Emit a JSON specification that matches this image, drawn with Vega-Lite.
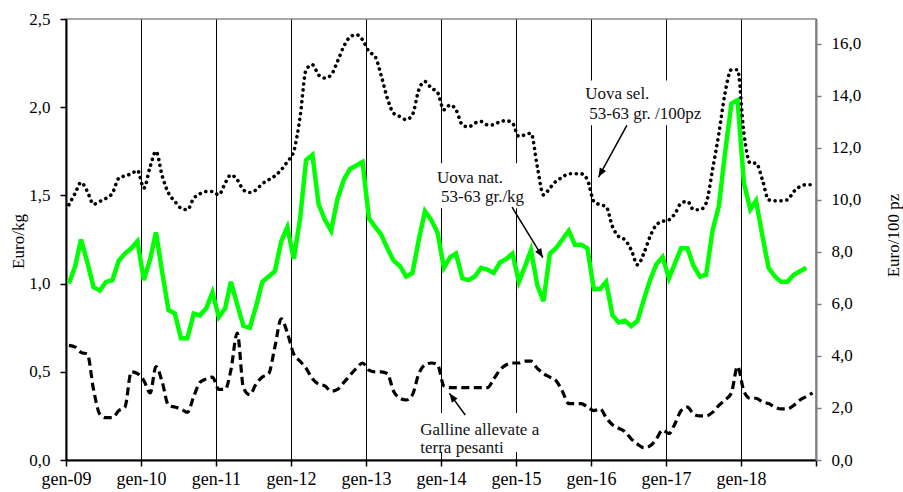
{
  "$schema": "https://vega.github.io/schema/vega-lite/v6.json",
  "width": 750,
  "height": 441,
  "autosize": {"type": "none"},
  "padding": {"left": 66, "top": 19, "right": 87, "bottom": 32},
  "config": {
    "font": "Liberation Serif",
    "view": {"stroke": "#8a8a8a", "strokeWidth": 1.5},
    "axis": {"labelColor": "black", "titleColor": "black", "titleFontWeight": "normal", "labelFont": "Liberation Serif", "titleFont": "Liberation Serif"}
  },
  "datasets": {
    "main": [
      {"d":"2009-01-15","sel":9.81,"nat":1.00,"gall":0.65},
      {"d":"2009-02-15","sel":10.26,"nat":1.10,"gall":0.64},
      {"d":"2009-03-15","sel":10.67,"nat":1.25,"gall":0.61},
      {"d":"2009-04-15","sel":10.32,"nat":1.12,"gall":0.60},
      {"d":"2009-05-15","sel":9.83,"nat":0.98,"gall":0.40},
      {"d":"2009-06-15","sel":9.94,"nat":0.96,"gall":0.26},
      {"d":"2009-07-15","sel":10.06,"nat":1.01,"gall":0.24},
      {"d":"2009-08-15","sel":10.26,"nat":1.02,"gall":0.24},
      {"d":"2009-09-15","sel":10.83,"nat":1.13,"gall":0.28},
      {"d":"2009-10-15","sel":10.92,"nat":1.17,"gall":0.30},
      {"d":"2009-11-15","sel":11.00,"nat":1.20,"gall":0.50},
      {"d":"2009-12-15","sel":11.13,"nat":1.24,"gall":0.49},
      {"d":"2010-01-15","sel":10.45,"nat":1.02,"gall":0.45},
      {"d":"2010-02-15","sel":11.28,"nat":1.14,"gall":0.38},
      {"d":"2010-03-15","sel":11.86,"nat":1.29,"gall":0.53},
      {"d":"2010-04-15","sel":10.90,"nat":1.06,"gall":0.44},
      {"d":"2010-05-15","sel":10.26,"nat":0.85,"gall":0.31},
      {"d":"2010-06-15","sel":9.94,"nat":0.83,"gall":0.30},
      {"d":"2010-07-15","sel":9.68,"nat":0.69,"gall":0.29},
      {"d":"2010-08-15","sel":9.62,"nat":0.69,"gall":0.27},
      {"d":"2010-09-15","sel":10.06,"nat":0.83,"gall":0.36},
      {"d":"2010-10-15","sel":10.23,"nat":0.82,"gall":0.44},
      {"d":"2010-11-15","sel":10.32,"nat":0.86,"gall":0.46},
      {"d":"2010-12-15","sel":10.32,"nat":0.95,"gall":0.47},
      {"d":"2011-01-15","sel":10.19,"nat":0.81,"gall":0.40},
      {"d":"2011-02-15","sel":10.64,"nat":0.86,"gall":0.40},
      {"d":"2011-03-15","sel":10.96,"nat":1.01,"gall":0.51},
      {"d":"2011-04-15","sel":10.77,"nat":0.88,"gall":0.72},
      {"d":"2011-05-15","sel":10.38,"nat":0.76,"gall":0.41},
      {"d":"2011-06-15","sel":10.28,"nat":0.75,"gall":0.37},
      {"d":"2011-07-15","sel":10.38,"nat":0.87,"gall":0.43},
      {"d":"2011-08-15","sel":10.62,"nat":1.01,"gall":0.47},
      {"d":"2011-09-15","sel":10.77,"nat":1.04,"gall":0.49},
      {"d":"2011-10-15","sel":10.92,"nat":1.07,"gall":0.64},
      {"d":"2011-11-15","sel":11.15,"nat":1.24,"gall":0.80},
      {"d":"2011-12-15","sel":11.47,"nat":1.32,"gall":0.72},
      {"d":"2012-01-15","sel":11.86,"nat":1.14,"gall":0.60},
      {"d":"2012-02-15","sel":13.20,"nat":1.37,"gall":0.56},
      {"d":"2012-03-15","sel":15.00,"nat":1.70,"gall":0.52},
      {"d":"2012-04-15","sel":15.19,"nat":1.73,"gall":0.46},
      {"d":"2012-05-15","sel":14.80,"nat":1.45,"gall":0.43},
      {"d":"2012-06-15","sel":14.68,"nat":1.36,"gall":0.42},
      {"d":"2012-07-15","sel":14.80,"nat":1.30,"gall":0.39},
      {"d":"2012-08-15","sel":15.32,"nat":1.48,"gall":0.40},
      {"d":"2012-09-15","sel":15.90,"nat":1.59,"gall":0.44},
      {"d":"2012-10-15","sel":16.26,"nat":1.65,"gall":0.48},
      {"d":"2012-11-15","sel":16.35,"nat":1.67,"gall":0.52},
      {"d":"2012-12-15","sel":16.15,"nat":1.69,"gall":0.55},
      {"d":"2013-01-15","sel":15.70,"nat":1.37,"gall":0.51},
      {"d":"2013-02-15","sel":15.50,"nat":1.32,"gall":0.50},
      {"d":"2013-03-15","sel":14.80,"nat":1.28,"gall":0.50},
      {"d":"2013-04-15","sel":13.90,"nat":1.20,"gall":0.49},
      {"d":"2013-05-15","sel":13.33,"nat":1.13,"gall":0.39},
      {"d":"2013-06-15","sel":13.20,"nat":1.10,"gall":0.35},
      {"d":"2013-07-15","sel":13.08,"nat":1.04,"gall":0.34},
      {"d":"2013-08-15","sel":13.27,"nat":1.06,"gall":0.37},
      {"d":"2013-09-15","sel":14.23,"nat":1.25,"gall":0.49},
      {"d":"2013-10-15","sel":14.55,"nat":1.41,"gall":0.54},
      {"d":"2013-11-15","sel":14.29,"nat":1.36,"gall":0.55},
      {"d":"2013-12-15","sel":14.13,"nat":1.29,"gall":0.54},
      {"d":"2014-01-15","sel":13.46,"nat":1.09,"gall":0.42},
      {"d":"2014-02-15","sel":13.65,"nat":1.15,"gall":0.41},
      {"d":"2014-03-15","sel":13.46,"nat":1.17,"gall":0.41},
      {"d":"2014-04-15","sel":12.88,"nat":1.03,"gall":0.41},
      {"d":"2014-05-15","sel":12.80,"nat":1.02,"gall":0.41},
      {"d":"2014-06-15","sel":12.95,"nat":1.04,"gall":0.41},
      {"d":"2014-07-15","sel":13.01,"nat":1.09,"gall":0.41},
      {"d":"2014-08-15","sel":12.88,"nat":1.08,"gall":0.41},
      {"d":"2014-09-15","sel":12.88,"nat":1.06,"gall":0.46},
      {"d":"2014-10-15","sel":13.01,"nat":1.12,"gall":0.51},
      {"d":"2014-11-15","sel":13.04,"nat":1.14,"gall":0.54},
      {"d":"2014-12-15","sel":12.95,"nat":1.17,"gall":0.55},
      {"d":"2015-01-15","sel":12.44,"nat":1.01,"gall":0.55},
      {"d":"2015-02-15","sel":12.50,"nat":1.10,"gall":0.56},
      {"d":"2015-03-15","sel":12.56,"nat":1.19,"gall":0.56},
      {"d":"2015-04-15","sel":11.28,"nat":0.99,"gall":0.52},
      {"d":"2015-05-15","sel":10.19,"nat":0.90,"gall":0.49},
      {"d":"2015-06-15","sel":10.45,"nat":1.17,"gall":0.47},
      {"d":"2015-07-15","sel":10.71,"nat":1.20,"gall":0.45},
      {"d":"2015-08-15","sel":10.87,"nat":1.25,"gall":0.39},
      {"d":"2015-09-15","sel":11.00,"nat":1.30,"gall":0.32},
      {"d":"2015-10-15","sel":11.00,"nat":1.22,"gall":0.32},
      {"d":"2015-11-15","sel":11.00,"nat":1.22,"gall":0.32},
      {"d":"2015-12-15","sel":10.77,"nat":1.20,"gall":0.30},
      {"d":"2016-01-15","sel":9.94,"nat":0.97,"gall":0.28},
      {"d":"2016-02-15","sel":9.81,"nat":0.97,"gall":0.29},
      {"d":"2016-03-15","sel":9.74,"nat":1.01,"gall":0.24},
      {"d":"2016-04-15","sel":8.97,"nat":0.82,"gall":0.20},
      {"d":"2016-05-15","sel":8.59,"nat":0.78,"gall":0.18},
      {"d":"2016-06-15","sel":8.46,"nat":0.79,"gall":0.16},
      {"d":"2016-07-15","sel":8.08,"nat":0.76,"gall":0.12},
      {"d":"2016-08-15","sel":7.50,"nat":0.79,"gall":0.09},
      {"d":"2016-09-15","sel":7.95,"nat":0.91,"gall":0.07},
      {"d":"2016-10-15","sel":8.59,"nat":1.02,"gall":0.08},
      {"d":"2016-11-15","sel":9.04,"nat":1.11,"gall":0.12},
      {"d":"2016-12-15","sel":9.17,"nat":1.15,"gall":0.17},
      {"d":"2017-01-15","sel":9.23,"nat":1.03,"gall":0.15},
      {"d":"2017-02-15","sel":9.49,"nat":1.12,"gall":0.21},
      {"d":"2017-03-15","sel":9.87,"nat":1.20,"gall":0.28},
      {"d":"2017-04-15","sel":9.94,"nat":1.20,"gall":0.30},
      {"d":"2017-05-15","sel":9.62,"nat":1.10,"gall":0.26},
      {"d":"2017-06-15","sel":9.62,"nat":1.04,"gall":0.25},
      {"d":"2017-07-15","sel":9.87,"nat":1.05,"gall":0.25},
      {"d":"2017-08-15","sel":11.15,"nat":1.30,"gall":0.27},
      {"d":"2017-09-15","sel":12.56,"nat":1.44,"gall":0.31},
      {"d":"2017-10-15","sel":14.10,"nat":1.74,"gall":0.34},
      {"d":"2017-11-15","sel":15.00,"nat":2.02,"gall":0.38},
      {"d":"2017-12-15","sel":15.00,"nat":2.04,"gall":0.53},
      {"d":"2018-01-15","sel":12.56,"nat":1.57,"gall":0.39},
      {"d":"2018-02-15","sel":11.41,"nat":1.42,"gall":0.35},
      {"d":"2018-03-15","sel":11.41,"nat":1.47,"gall":0.35},
      {"d":"2018-04-15","sel":10.77,"nat":1.27,"gall":0.33},
      {"d":"2018-05-15","sel":10.00,"nat":1.09,"gall":0.32},
      {"d":"2018-06-15","sel":9.96,"nat":1.04,"gall":0.30},
      {"d":"2018-07-15","sel":9.96,"nat":1.01,"gall":0.29},
      {"d":"2018-08-15","sel":10.00,"nat":1.01,"gall":0.29},
      {"d":"2018-09-15","sel":10.32,"nat":1.05,"gall":0.31},
      {"d":"2018-10-15","sel":10.51,"nat":1.07,"gall":0.34},
      {"d":"2018-11-15","sel":10.58,"nat":1.09,"gall":0.36},
      {"d":"2018-12-15","sel":10.58,"nat":null,"gall":0.38}
    ],
    "ann": [
      {"k":"box","d":"2015-11-10","d2":"2017-07-20","v":2.152,"v2":1.897},
      {"k":"box","d":"2013-11-25","d2":"2015-03-11","v":1.682,"v2":1.427},
      {"k":"box","d":"2013-08-29","d2":"2015-06-02","v":0.266,"v2":0.045},
      {"k":"text","t":"Uova sel.","d":"2015-12-04","v":2.044},
      {"k":"text","t":"53-63 gr. /100pz","d":"2015-12-24","v":1.931},
      {"k":"text","t":"Uova nat.","d":"2013-12-12","v":1.571},
      {"k":"text","t":"53-63 gr./kg","d":"2014-01-01","v":1.464},
      {"k":"text","t":"Galline allevate a","d":"2013-09-22","v":0.1416},
      {"k":"text","t":"terra pesanti","d":"2013-09-22","v":0.0425},
      {"k":"arrow","id":"sel","d":"2016-06-24","v":1.897,"d2":"2016-02-07","v2":1.604},
      {"k":"arrow","id":"nat","d":"2014-12-13","v":1.434,"d2":"2015-05-12","v2":1.148},
      {"k":"arrow","id":"gall","d":"2014-04-29","v":0.2548,"d2":"2014-02-11","v2":0.3777}
    ]
  },
  "encoding": {
    "x": {
      "field": "d",
      "type": "temporal",
      "scale": {"type": "utc", "domain": [{"year": 2009, "month": 1, "date": 1, "utc": true}, {"year": 2019, "month": 1, "date": 1, "utc": true}]},
      "axis": {
        "title": null,
        "tickCount": {"interval": "year", "step": 1},
        "labelExpr": "utcyear(datum.value) >= 2019 ? '' : 'gen-' + utcFormat(datum.value, '%y')",
        "grid": true,
        "gridColor": "black",
        "gridWidth": 1,
        "gridOpacity": 1,
        "domainColor": "black",
        "domainWidth": 2,
        "tickColor": "black",
        "tickWidth": 1.5,
        "tickSize": 6,
        "labelFontSize": 18,
        "labelPadding": 4,
        "labelDx": 3,
        "labelFlush": false,
        "labelOverlap": false
      }
    }
  },
  "layer": [
    {
      "encoding": {
        "y": {
          "field": "v",
          "type": "quantitative",
          "scale": {"domain": [0, 2.5], "nice": false, "zero": true},
          "axis": {
            "title": "Euro/kg",
            "values": [0, 0.5, 1, 1.5, 2, 2.5],
            "labelExpr": "replace(format(datum.value, '.1f'), '.', ',')",
            "grid": false,
            "domainColor": "black",
            "domainWidth": 2,
            "tickColor": "black",
            "tickWidth": 1.5,
            "tickSize": 6,
            "labelFontSize": 17,
            "labelPadding": 10,
            "titleFontSize": 17,
            "titleAngle": 270,
            "titleX": -48,
            "titleY": 222,
            "titleBaseline": "middle",
            "titleAlign": "center"
          }
        }
      },
      "layer": [
        {
          "data": {"name": "ann"},
          "transform": [{"filter": "datum.k == 'box'"}],
          "mark": {"type": "rect", "fill": "white", "stroke": null},
          "encoding": {"x2": {"field": "d2"}, "y2": {"field": "v2"}}
        },
        {
          "data": {"name": "main"},
          "transform": [{"fold": ["gall"], "as": ["s", "v"]}],
          "mark": {"type": "line", "stroke": "black", "strokeWidth": 3.2, "strokeDash": [8, 4.5], "interpolate": "monotone"},
          "encoding": {}
        },
        {
          "data": {"name": "main"},
          "transform": [{"fold": ["nat"], "as": ["s", "v"]}],
          "mark": {"type": "line", "stroke": "#00ff00", "strokeWidth": 4.5},
          "encoding": {}
        },
        {
          "data": {"name": "ann"},
          "transform": [{"filter": "datum.k == 'text'"}],
          "mark": {"type": "text", "align": "left", "baseline": "alphabetic", "fontSize": 17, "font": "Liberation Serif", "color": "#111"},
          "encoding": {"text": {"field": "t"}}
        },
        {
          "data": {"name": "ann"},
          "transform": [{"filter": "datum.k == 'arrow'"}],
          "mark": {"type": "rule", "color": "black", "strokeWidth": 1.5},
          "encoding": {"x2": {"field": "d2"}, "y2": {"field": "v2"}}
        },
        {
          "data": {"name": "ann"},
          "transform": [{"filter": "datum.id == 'sel'"}],
          "mark": {"type": "point", "shape": "M0,0L-0.4,1L0.4,1Z", "filled": true, "color": "black", "opacity": 1, "size": 324, "angle": 209},
          "encoding": {"x": {"field": "d2", "type": "temporal"}, "y": {"field": "v2", "type": "quantitative"}}
        },
        {
          "data": {"name": "ann"},
          "transform": [{"filter": "datum.id == 'nat'"}],
          "mark": {"type": "point", "shape": "M0,0L-0.4,1L0.4,1Z", "filled": true, "color": "black", "opacity": 1, "size": 324, "angle": 148.5},
          "encoding": {"x": {"field": "d2", "type": "temporal"}, "y": {"field": "v2", "type": "quantitative"}}
        },
        {
          "data": {"name": "ann"},
          "transform": [{"filter": "datum.id == 'gall'"}],
          "mark": {"type": "point", "shape": "M0,0L-0.4,1L0.4,1Z", "filled": true, "color": "black", "opacity": 1, "size": 324, "angle": 324},
          "encoding": {"x": {"field": "d2", "type": "temporal"}, "y": {"field": "v2", "type": "quantitative"}}
        }
      ]
    },
    {
      "data": {"name": "main"},
      "mark": {"type": "line", "stroke": "black", "strokeWidth": 3.6, "strokeDash": [0.1, 5.8], "strokeCap": "round", "interpolate": "monotone"},
      "encoding": {
        "y": {
          "field": "sel",
          "type": "quantitative",
          "scale": {"domain": [0, 16.95], "nice": false, "zero": true},
          "axis": {
            "orient": "right",
            "title": "Euro/100 pz",
            "values": [0, 2, 4, 6, 8, 10, 12, 14, 16],
            "labelExpr": "replace(format(datum.value, '.1f'), '.', ',')",
            "grid": false,
            "domainColor": "#808080",
            "domainWidth": 2,
            "tickColor": "#808080",
            "tickWidth": 1.5,
            "tickSize": 5,
            "labelFontSize": 17,
            "labelPadding": 10,
            "titleFontSize": 17,
            "titleAngle": 270,
            "titleX": 77,
            "titleY": 216,
            "titleBaseline": "middle",
            "titleAlign": "center"
          }
        }
      }
    }
  ],
  "resolve": {"scale": {"y": "independent"}}
}
